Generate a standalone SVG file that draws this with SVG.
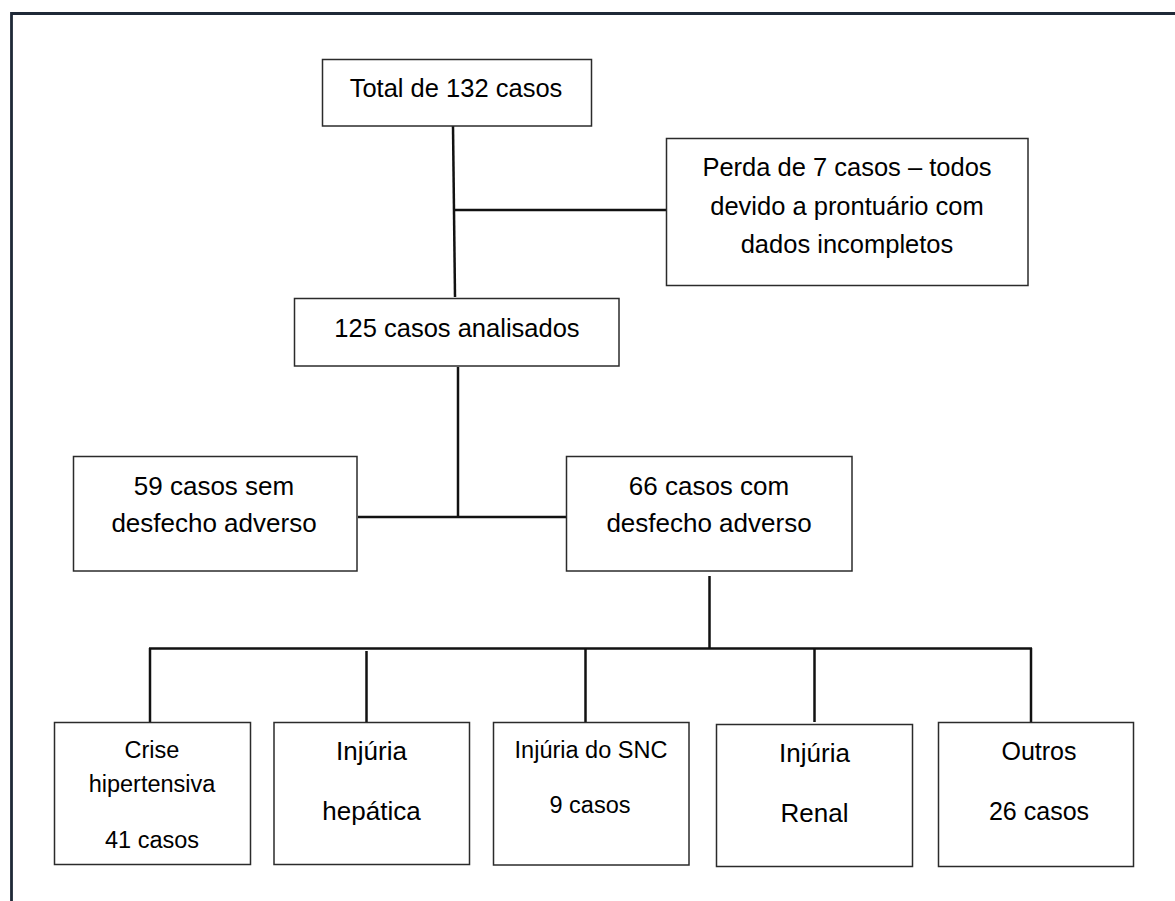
<svg xmlns="http://www.w3.org/2000/svg" width="1175" height="901" viewBox="0 0 1175 901">
<style>
.box{fill:#fff;stroke:#2b2b2b;stroke-width:1.5}
.t{font-family:"Liberation Sans",Arial,sans-serif;fill:#000;text-anchor:middle;font-size:25.5px}
.c{stroke:#111;stroke-width:2.5;fill:none}
.frame{stroke:#1f2937;stroke-width:2.8;fill:none}
</style>
<rect width="1175" height="901" fill="#fff"/>
<g id="frame">
<line class="frame" x1="11.5" y1="13.5" x2="1175" y2="13.5"/>
<line class="frame" x1="11.5" y1="12" x2="11.5" y2="901"/>
</g>
<g id="connectors">
<line class="c" x1="453" y1="126" x2="455" y2="297"/>
<line class="c" x1="454" y1="210" x2="667" y2="210"/>
<line class="c" x1="458" y1="367" x2="458" y2="517"/>
<line class="c" x1="358" y1="517" x2="567" y2="517"/>
<line class="c" x1="709.5" y1="576" x2="709.5" y2="648.5"/>
<line class="c" x1="149" y1="648.5" x2="1032" y2="648.5"/>
<line class="c" x1="150" y1="648" x2="150" y2="722"/>
<line class="c" x1="366.5" y1="651" x2="366.5" y2="723"/>
<line class="c" x1="585.5" y1="648" x2="585.5" y2="722"/>
<line class="c" x1="814.5" y1="648" x2="814.5" y2="722"/>
<line class="c" x1="1031" y1="648" x2="1031" y2="722"/>
</g>
<g id="total">
<rect class="box" x="322.5" y="59.5" width="269" height="66.5"/>
<text class="t" x="456" y="97">Total de 132 casos</text>
</g>
<g id="perda">
<rect class="box" x="666.5" y="138.5" width="361.5" height="147"/>
<text class="t" x="847" y="176">Perda de 7 casos – todos</text>
<text class="t" x="847" y="214.5">devido a prontuário com</text>
<text class="t" x="847" y="253">dados incompletos</text>
</g>
<g id="analisados">
<rect class="box" x="294.5" y="298.5" width="324.5" height="67.5"/>
<text class="t" x="457" y="336.5">125 casos analisados</text>
</g>
<g id="sem">
<rect class="box" x="73.5" y="456.5" width="283.5" height="114.5"/>
<text class="t" x="214" y="495" style="font-size:26px">59 casos sem</text>
<text class="t" x="214" y="532" style="font-size:26px">desfecho adverso</text>
</g>
<g id="com">
<rect class="box" x="566.5" y="456.5" width="285.5" height="114.5"/>
<text class="t" x="709" y="495" style="font-size:26px">66 casos com</text>
<text class="t" x="709" y="532" style="font-size:26px">desfecho adverso</text>
</g>
<g id="crise">
<rect class="box" x="54.5" y="722.5" width="196" height="142"/>
<text class="t" x="152" y="758" style="font-size:23.5px">Crise</text>
<text class="t" x="152" y="792" style="font-size:23.5px">hipertensiva</text>
<text class="t" x="152" y="848" style="font-size:23.5px">41 casos</text>
</g>
<g id="hepatica">
<rect class="box" x="274" y="722.5" width="195.5" height="142"/>
<text class="t" x="371.5" y="760" style="font-size:26px">Injúria</text>
<text class="t" x="371.5" y="820" style="font-size:26px">hepática</text>
</g>
<g id="snc">
<rect class="box" x="493.5" y="722.5" width="195.5" height="142.5"/>
<text class="t" x="591" y="758" style="font-size:23.5px">Injúria do SNC</text>
<text class="t" x="590" y="813" style="font-size:23.5px">9 casos</text>
</g>
<g id="renal">
<rect class="box" x="716.5" y="724.5" width="196" height="142"/>
<text class="t" x="814.5" y="761.5" style="font-size:26px">Injúria</text>
<text class="t" x="814.5" y="821.5" style="font-size:26px">Renal</text>
</g>
<g id="outros">
<rect class="box" x="938.5" y="722.5" width="195" height="144"/>
<text class="t" x="1039" y="760" style="font-size:25px">Outros</text>
<text class="t" x="1039" y="820" style="font-size:25px">26 casos</text>
</g>
</svg>
